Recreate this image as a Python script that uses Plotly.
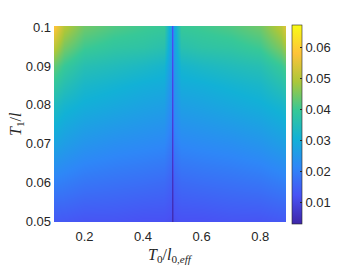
import plotly.graph_objects as go

# T0/l0,eff positions (columns) and T1/l positions (rows)
x_vals = [0.1, 0.13, 0.2, 0.3, 0.4, 0.47, 0.494, 0.5, 0.506, 0.53, 0.6, 0.7, 0.8, 0.87, 0.9]
y_vals = [0.05, 0.06, 0.07, 0.08, 0.085, 0.09, 0.095, 0.1]

row_005 = [0.0134, 0.0134, 0.0127, 0.0127, 0.0121, 0.0121, 0.0115, 0.0045, 0.0115, 0.0121, 0.0121, 0.0127, 0.0127, 0.0134, 0.0134]
row_006 = [0.0204, 0.0198, 0.0185, 0.0178, 0.0172, 0.0166, 0.0150, 0.0058, 0.0150, 0.0166, 0.0172, 0.0178, 0.0185, 0.0198, 0.0210]
row_007 = [0.0275, 0.0262, 0.0243, 0.0230, 0.0223, 0.0217, 0.0190, 0.0075, 0.0195, 0.0217, 0.0223, 0.0230, 0.0243, 0.0262, 0.0281]
row_008 = [0.0339, 0.0319, 0.0300, 0.0287, 0.0275, 0.0268, 0.0223, 0.0092, 0.0230, 0.0268, 0.0275, 0.0287, 0.0300, 0.0319, 0.0345]
row_0085 = [0.0384, 0.0358, 0.0326, 0.0313, 0.0300, 0.0294, 0.0236, 0.0098, 0.0243, 0.0294, 0.0300, 0.0313, 0.0326, 0.0358, 0.0390]
row_009 = [0.0428, 0.0396, 0.0358, 0.0345, 0.0332, 0.0319, 0.0250, 0.0105, 0.0258, 0.0319, 0.0332, 0.0345, 0.0358, 0.0396, 0.0435]
row_0095 = [0.0505, 0.0448, 0.0403, 0.0384, 0.0377, 0.0364, 0.0262, 0.0112, 0.0270, 0.0364, 0.0377, 0.0384, 0.0403, 0.0454, 0.0512]
row_010 = [0.0576, 0.0499, 0.0441, 0.0416, 0.0403, 0.0396, 0.0270, 0.0118, 0.0280, 0.0396, 0.0403, 0.0416, 0.0441, 0.0505, 0.0582]

z_rows = [row_005, row_006, row_007, row_008, row_0085, row_009, row_0095, row_010]

c_min, c_max = 0.0031, 0.0672
x_ticks = [0.2, 0.4, 0.6, 0.8]
y_ticks = [0.05, 0.06, 0.07, 0.08, 0.09, 0.1]
y_ticklabels = ["0.05", "0.06", "0.07", "0.08", "0.09", "0.1"]
cb_ticks = [0.01, 0.02, 0.03, 0.04, 0.05, 0.06]

parula = [
    [0.0, "rgb(62,38,168)"],
    [1/7, "rgb(72,82,244)"],
    [2/7, "rgb(46,135,247)"],
    [3/7, "rgb(18,177,214)"],
    [4/7, "rgb(55,200,151)"],
    [5/7, "rgb(171,199,57)"],
    [6/7, "rgb(254,195,56)"],
    [1.0, "rgb(249,251,21)"],
]

tick_font = dict(family="Liberation Sans, Arial, sans-serif", size=13, color="#262626")
title_font = dict(family="Liberation Serif, Times New Roman, serif", size=16, color="#262626")

fig = go.Figure(go.Heatmap(
    x=x_vals, y=y_vals, z=z_rows,
    zmin=c_min, zmax=c_max, zsmooth="best",
    colorscale=parula,
    colorbar=dict(
        x=1.026, xanchor="left", xpad=0, ypad=0,
        y=0.4975, yanchor="middle", len=1.015, lenmode="fraction",
        thickness=10, outlinewidth=0.6, outlinecolor="#262626",
        tickvals=cb_ticks, ticktext=["0.01", "0.02", "0.03", "0.04", "0.05", "0.06"],
        ticks="inside", ticklen=2, tickcolor="#262626",
        tickfont=tick_font,
    ),
))

# the page body has an 8px margin, so the figure fills the rest of the window
fig.update_layout(
    width=338, height=258,
    margin=dict(l=46, r=60, t=13, b=44),
    paper_bgcolor="white", plot_bgcolor="white",
    showlegend=False,
    xaxis=dict(range=[0.096, 0.888], tickvals=x_ticks, ticktext=["0.2", "0.4", "0.6", "0.8"],
               showgrid=False, zeroline=False, showline=False, ticks="",
               ticklabelstandoff=5, tickfont=tick_font),
    yaxis=dict(range=[0.0498, 0.1003], tickvals=y_ticks, ticktext=y_ticklabels,
               showgrid=False, zeroline=False, showline=False, ticks="",
               ticklabelstandoff=2, tickfont=tick_font),
    annotations=[
        dict(text="<i>T</i><sub>1</sub>/<i>l</i>", xref="paper", yref="paper",
             x=0, y=0.5, xanchor="center", yanchor="middle", xshift=-38,
             textangle=-90, showarrow=False, font=title_font),
        dict(text="<i>T</i><sub>0</sub>/<i>l</i><sub>0,<i>eff</i></sub>", xref="paper", yref="paper",
             x=0.5, y=0, xanchor="center", yanchor="middle", yshift=-33,
             showarrow=False, font=title_font),
    ],
)

fig.write_html("out.html")
